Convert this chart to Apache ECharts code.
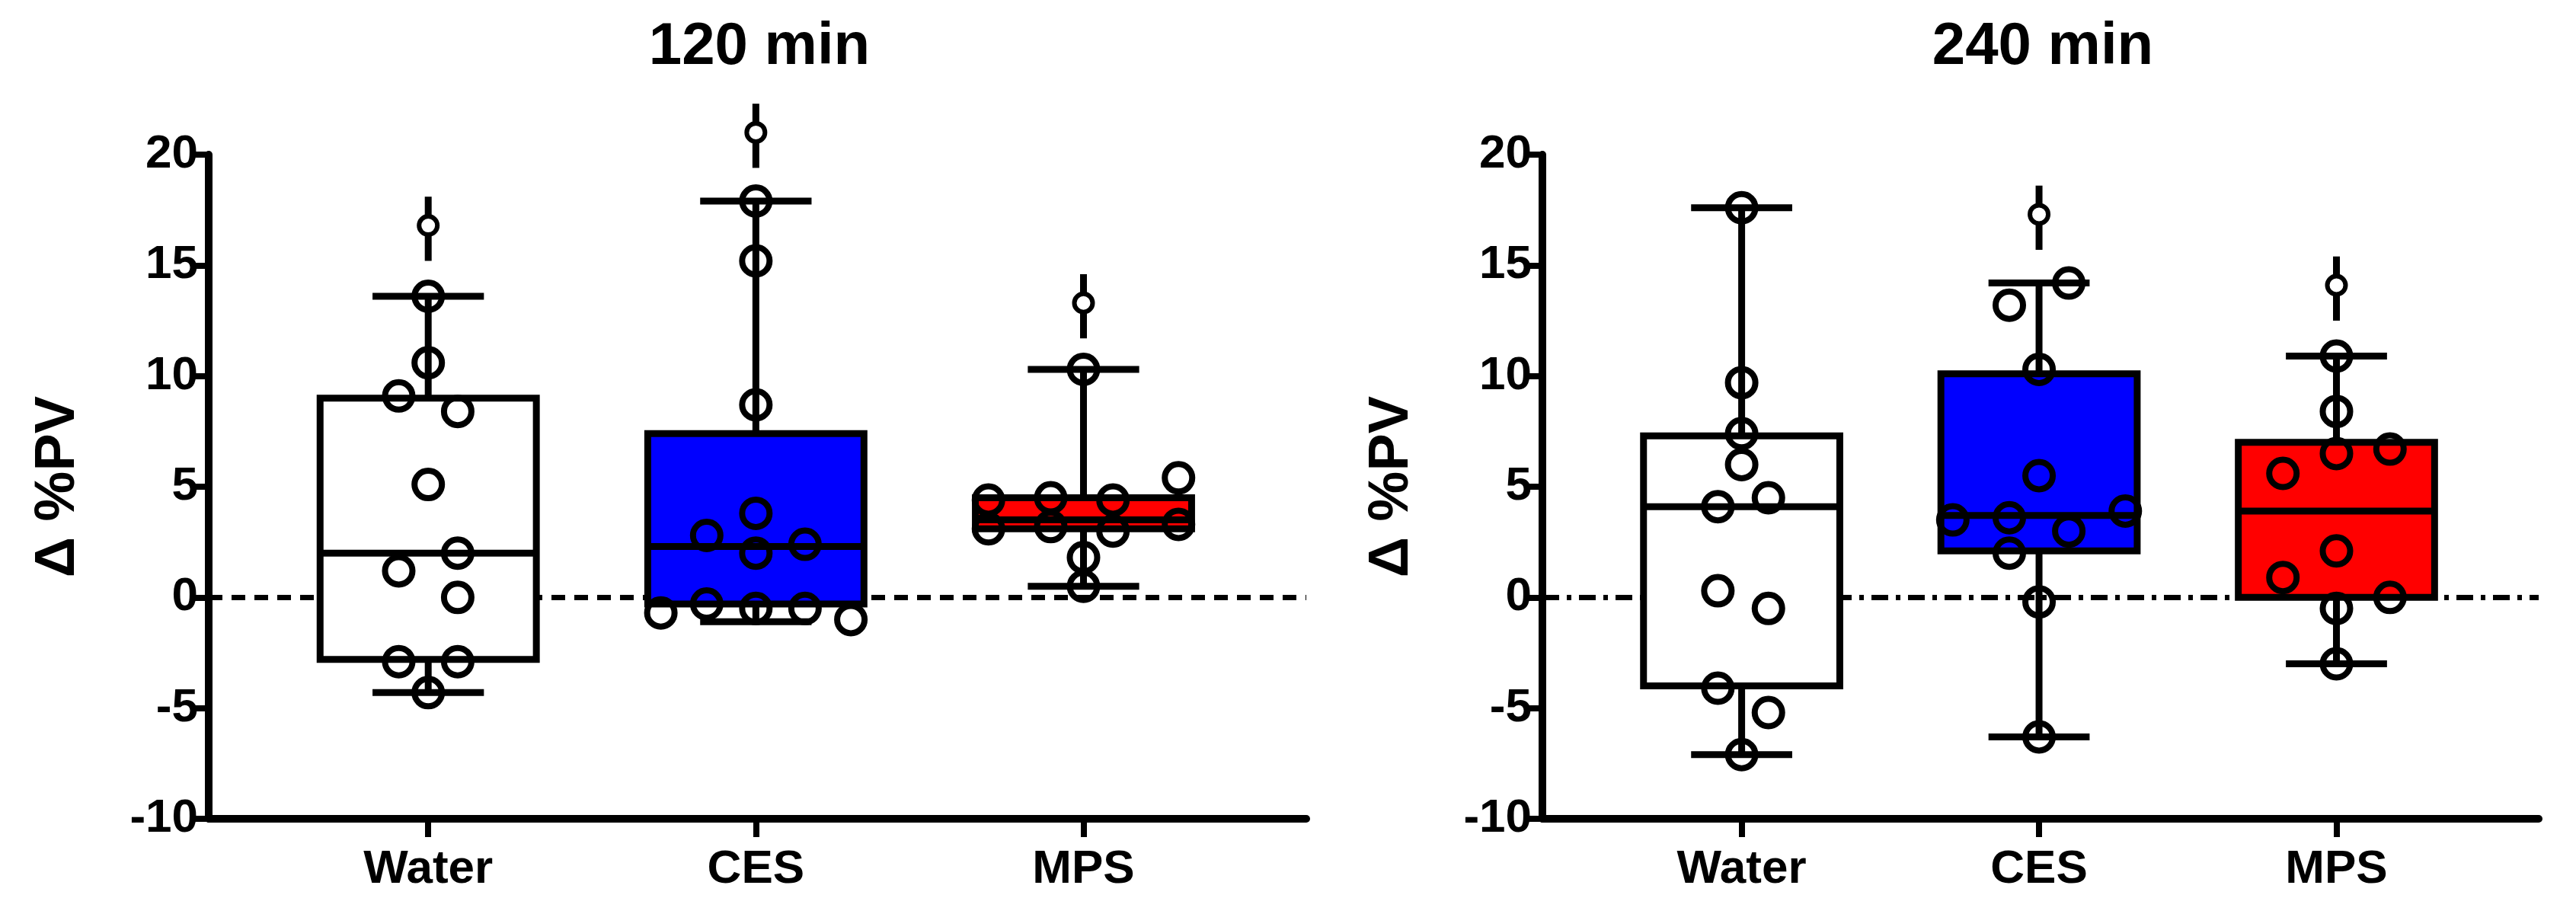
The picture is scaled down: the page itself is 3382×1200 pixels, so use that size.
<!DOCTYPE html>
<html>
<head>
<meta charset="utf-8">
<script src="https://cdn.jsdelivr.net/npm/echarts@6/dist/echarts.min.js"></script>
<style>html,body{margin:0;padding:0;background:#fff}#chart{width:3382px;height:1200px}</style>
</head>
<body>
<div id="chart"></div>
<script>
var categories = ['Water', 'CES', 'MPS'];
var colors = ['#ffffff', '#0000ff', '#ff0000'];
var yTicks = [-10, 20, 5];

// [min, q1, median, q3, max]
var boxes120 = [[-4.3, -2.8, 2.0, 9.0, 13.6], [-1.1, -0.3, 2.3, 7.4, 17.9], [0.5, 3.1, 3.5, 4.5, 10.3]];
var boxes240 = [[-7.1, -4.0, 4.1, 7.3, 17.6], [-6.3, 2.1, 3.7, 10.1, 14.2], [-3.0, 0.0, 3.9, 7.0, 10.9]];
var outliers120 = [16.8, 21.0, 13.3];
var outliers240 = [null, 17.3, 14.1];

// points: [x offset, value]
var points120 = [
  [[0, 13.6], [0, 10.6], [-0.09, 9.1], [0.09, 8.4], [0, 5.1], [0.09, 2.0], [-0.09, 1.2], [0.09, 0.0], [-0.09, -2.9], [0.09, -2.9], [0, -4.3]],
  [[0, 17.9], [0, 15.2], [0, 8.7], [0, 3.8], [-0.15, 2.8], [0, 2.0], [0.15, 2.4], [-0.15, -0.3], [0, -0.5], [0.15, -0.5], [-0.29, -0.7], [0.29, -1.0]],
  [[0, 10.3], [0.29, 5.4], [-0.29, 4.4], [-0.1, 4.5], [0.09, 4.4], [-0.29, 3.1], [-0.1, 3.2], [0.09, 3.0], [0.29, 3.3], [0, 1.8], [0, 0.5]]
];
var points240 = [
  [[0, 17.6], [0, 9.7], [0, 7.4], [0, 6.0], [-0.08, 4.1], [0.09, 4.5], [-0.08, 0.3], [0.09, -0.5], [-0.08, -4.1], [0.09, -5.2], [0, -7.1]],
  [[0.1, 14.2], [-0.1, 13.2], [0, 10.3], [0, 5.5], [-0.29, 3.5], [-0.1, 3.6], [0.1, 3.0], [0.29, 3.9], [-0.1, 2.0], [0, -0.2], [0, -6.3]],
  [[0, 10.9], [0, 8.4], [0, 6.5], [0.18, 6.7], [-0.18, 5.6], [0, 2.1], [-0.18, 0.9], [0.18, 0.0], [0, -0.5], [0, -3.0]]
];

var FONT = '"Liberation Sans Narrow", "Liberation Sans", Arial, sans-serif';
var LW = 9;

function boxRender(params, api) {
  var x = api.value(0);
  var hw = 0.33, cw = 0.17;
  var p = function (dx, v) { return api.coord([x + dx, v]); };
  var ls = { stroke: '#000', lineWidth: LW };
  var tl = p(-hw, api.value(4)), br = p(hw, api.value(2));
  return {
    type: 'group',
    children: [
      { type: 'line', shape: { x1: p(0, 0)[0], y1: p(0, api.value(4))[1], x2: p(0, 0)[0], y2: p(0, api.value(5))[1] }, style: ls },
      { type: 'line', shape: { x1: p(0, 0)[0], y1: p(0, api.value(2))[1], x2: p(0, 0)[0], y2: p(0, api.value(1))[1] }, style: ls },
      { type: 'line', shape: { x1: p(-cw, 0)[0], y1: p(0, api.value(5))[1], x2: p(cw, 0)[0], y2: p(0, api.value(5))[1] }, style: ls },
      { type: 'line', shape: { x1: p(-cw, 0)[0], y1: p(0, api.value(1))[1], x2: p(cw, 0)[0], y2: p(0, api.value(1))[1] }, style: ls },
      { type: 'rect', shape: { x: tl[0], y: tl[1], width: br[0] - tl[0], height: br[1] - tl[1] }, style: { fill: colors[api.value(6)], stroke: '#000', lineWidth: LW } },
      { type: 'line', shape: { x1: tl[0], y1: p(0, api.value(3))[1], x2: br[0], y2: p(0, api.value(3))[1] }, style: ls }
    ]
  };
}

function outlierRender(params, api) {
  var x = api.value(0), v = api.value(1);
  var c = api.coord([x, v]);
  var ls = { stroke: '#000', lineWidth: LW };
  return {
    type: 'group',
    children: [
      { type: 'line', shape: { x1: c[0], y1: api.coord([x, v + 0.45])[1], x2: c[0], y2: api.coord([x, v + 1.3])[1] }, style: ls },
      { type: 'line', shape: { x1: c[0], y1: api.coord([x, v - 0.45])[1], x2: c[0], y2: api.coord([x, v - 1.6])[1] }, style: ls },
      { type: 'circle', shape: { cx: c[0], cy: c[1], r: 12 }, style: { fill: 'none', stroke: '#000', lineWidth: 6 } }
    ]
  };
}

function panelSeries(idx, boxes, points, outliers, dash) {
  var boxData = boxes.map(function (b, i) { return [i + 1].concat(b).concat([i]); });
  var ptData = [];
  points.forEach(function (g, i) { g.forEach(function (p) { ptData.push([i + 1 + p[0], p[1]]); }); });
  var outData = [];
  outliers.forEach(function (o, i) { if (o !== null) outData.push([i + 1, o]); });
  return [
    {
      type: 'custom', xAxisIndex: idx, yAxisIndex: idx, renderItem: boxRender, data: boxData, z: 2,
      markLine: {
        silent: true, symbol: 'none', label: { show: false }, z: 1,
        lineStyle: { color: '#000', width: 7, type: dash, opacity: 1 },
        data: [{ yAxis: 0 }]
      }
    },
    { type: 'custom', xAxisIndex: idx, yAxisIndex: idx, renderItem: outlierRender, data: outData, z: 4 },
    {
      type: 'scatter', xAxisIndex: idx, yAxisIndex: idx, data: ptData, symbol: 'circle', symbolSize: 36, z: 5,
      itemStyle: { color: 'rgba(0,0,0,0)', borderColor: '#000', borderWidth: 8, opacity: 1 }
    }
  ];
}

function xAxisDef(idx) {
  return {
    type: 'value', gridIndex: idx, min: 0.33, max: 3.68,
    splitLine: { show: false },
    axisLine: { onZero: false, lineStyle: { color: '#000', width: 10 } },
    axisTick: { show: true, length: 24, customValues: [1, 2, 3], lineStyle: { color: '#000', width: 8 } },
    axisLabel: {
      customValues: [1, 2, 3], margin: 36,
      formatter: function (v) { return categories[Math.round(v) - 1]; },
      color: '#000', fontSize: 62, fontWeight: 'bold', fontFamily: FONT
    }
  };
}

function yAxisDef(idx) {
  return {
    type: 'value', gridIndex: idx, min: yTicks[0], max: yTicks[1], interval: yTicks[2],
    name: 'Δ %PV', nameLocation: 'middle', nameGap: 160,
    nameTextStyle: { color: '#000', fontSize: 74, fontWeight: 'bold', fontFamily: 'Liberation Sans, Arial, sans-serif' },
    splitLine: { show: false },
    axisLine: { show: true, lineStyle: { color: '#000', width: 10 } },
    axisTick: { show: true, length: 24, lineStyle: { color: '#000', width: 8 } },
    axisLabel: { color: '#000', fontSize: 62, fontWeight: 'bold', fontFamily: FONT, margin: 14 }
  };
}

var myChart = echarts.init(document.getElementById('chart'));
var option = {
  backgroundColor: '#fff',
  animation: false,
  title: [
    { text: '120 min', left: 992, top: 18, textAlign: 'center', textStyle: { fontSize: 78, fontWeight: 'bold', fontFamily: FONT, color: '#000' } },
    { text: '240 min', left: 2677, top: 18, textAlign: 'center', textStyle: { fontSize: 78, fontWeight: 'bold', fontFamily: FONT, color: '#000' } }
  ],
  grid: [
    { left: 274, width: 1441, top: 203, height: 872 },
    { left: 2025, width: 1308, top: 203, height: 872 }
  ],
  xAxis: [xAxisDef(0), xAxisDef(1)],
  yAxis: [yAxisDef(0), yAxisDef(1)],
  series: panelSeries(0, boxes120, points120, outliers120, [18, 12])
    .concat(panelSeries(1, boxes240, points240, outliers240, [22, 10, 6, 10]))
};
myChart.setOption(option);
</script>
</body>
</html>
